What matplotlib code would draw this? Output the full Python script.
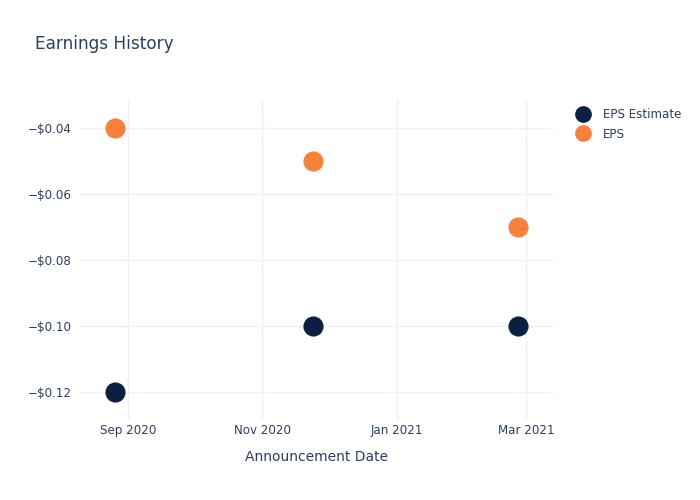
import numpy as np
import pandas as pd
import matplotlib
matplotlib.use("Agg")
import matplotlib.pyplot as plt
import matplotlib.dates as mdates
from matplotlib.lines import Line2D
from matplotlib.ticker import FuncFormatter

dates = pd.to_datetime(["2020-08-26", "2020-11-24", "2021-02-25"])
eps_estimate = [-0.12, -0.10, -0.10]
eps_actual = [-0.04, -0.05, -0.07]
series_names = ["EPS Estimate", "EPS"]

navy, orange = "#0b1f41", "#f6813a"
text_color = "#2a3f5f"
grid_color = "#ebf0f8"

fig = plt.figure(figsize=(7, 5), dpi=100)
ax = fig.add_axes([80 / 700, 1 - 420 / 500, (554 - 80) / 700, 320 / 500])

ax.plot(dates, eps_estimate, linestyle="none", marker="o", markersize=13.5, color=navy, zorder=3, clip_on=False)
ax.plot(dates, eps_actual, linestyle="none", marker="o", markersize=13.5, color=orange, zorder=3, clip_on=False)

ax.set_xlim(pd.Timestamp("2020-08-10"), pd.Timestamp("2021-03-13 14:00"))
ax.set_ylim(-0.1286, -0.0314)
ax.set_yticks([-0.12, -0.10, -0.08, -0.06, -0.04])
ax.yaxis.set_major_formatter(FuncFormatter(lambda v, p: f"\u2212${abs(v):.2f}"))
ax.set_xticks(pd.to_datetime(["2020-09-01", "2020-11-01", "2021-01-01", "2021-03-01"]))
ax.xaxis.set_major_formatter(mdates.DateFormatter("%b %Y"))

ax.grid(True, color=grid_color, linewidth=1)
ax.set_axisbelow(True)
for s in ax.spines.values():
    s.set_visible(False)
ax.tick_params(axis="y", length=0, labelsize=8.6, colors=text_color, pad=6)
ax.tick_params(axis="x", length=0, labelsize=8.6, colors=text_color, pad=3)
ax.set_xlabel("Announcement Date", fontsize=10, color=text_color, labelpad=9)

fig.text(35 / 700, 1 - 44 / 500, "Earnings History", fontsize=12.2, color=text_color, va="center", ha="left")

handles = [Line2D([0], [0], marker="o", linestyle="none", markersize=11, color=c) for c in (navy, orange)]
leg = fig.legend(handles, series_names, loc="upper left", bbox_to_anchor=(574 / 700, 1 - 108 / 500),
                 frameon=False, fontsize=8.6, labelcolor=text_color, handletextpad=0.9,
                 labelspacing=0.55, borderaxespad=0, borderpad=0, handlelength=1.5)

fig.savefig("out.png", dpi=100)
